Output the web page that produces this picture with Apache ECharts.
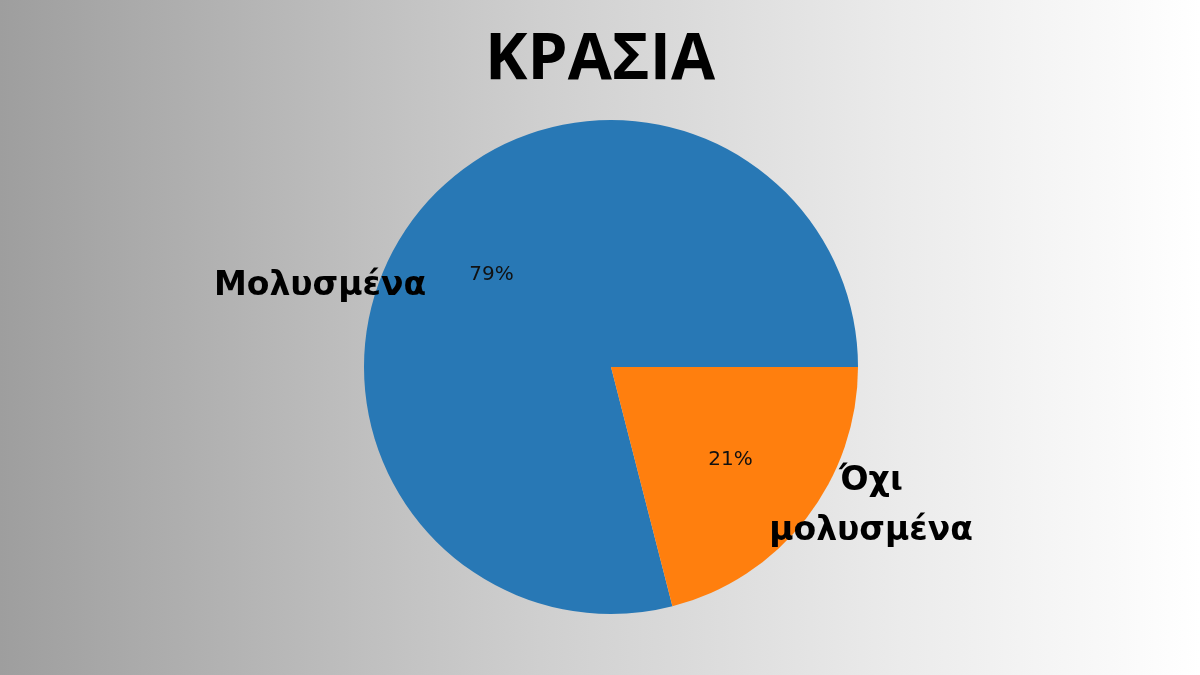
<!DOCTYPE html>
<html>
<head>
<meta charset="utf-8">
<script src="https://cdn.jsdelivr.net/npm/echarts@6/dist/echarts.min.js"></script>
<style>
  html, body { margin: 0; padding: 0; }
  body { width: 1200px; height: 675px; background: linear-gradient(to right, #9e9e9e 0%, #cfcfcf 45%, #ebebeb 75%, #ffffff 100%); }
  #main { width: 1200px; height: 675px; }
</style>
</head>
<body>
<div id="main"></div>
<script>
const categories = ['Μολυσμένα', 'Όχι\nμολυσμένα'];
const values = [79, 21];
const colors = ['#2878b5', '#ff7f0e'];
// label anchor points (matplotlib-style labels at 1.1 radius)
const labelPos = [[320, 286], [871, 506]];

const chart = echarts.init(document.getElementById('main'));
const center = [611, 367];
const R = 247;

const pieData = categories.map((name, i) => ({ name, value: values[i] }));

chart.setOption({
  title: {
    text: 'ΚΡΑΣΙΑ', left: 'center', top: 24,
    textStyle: { fontFamily: 'Open Sans', fontWeight: 'bold', fontSize: 64, color: '#000' }
  },
  series: [
    {
      type: 'pie', center, radius: [0, R], startAngle: 0, clockwise: false,
      silent: true, animation: false,
      data: pieData,
      itemStyle: { color: p => colors[p.dataIndex] },
      label: {
        show: true, position: 'outside', color: '#000', align: 'center',
        fontFamily: 'DejaVu Sans', fontWeight: 'bold', fontSize: 33, lineHeight: 50,
        formatter: p => p.name
      },
      labelLine: { show: false },
      labelLayout: p => ({ x: labelPos[p.dataIndex][0], y: labelPos[p.dataIndex][1], align: 'center', verticalAlign: 'middle' })
    },
    {
      type: 'pie', center, radius: [0, R * 1.2], startAngle: 0, clockwise: false,
      silent: true, animation: false,
      data: pieData,
      itemStyle: { color: 'rgba(0,0,0,0)' },
      label: {
        show: true, position: 'inside', color: '#111',
        fontFamily: 'DejaVu Sans', fontSize: 20,
        formatter: p => p.value + '%'
      }
    }
  ]
});
</script>
</body>
</html>
